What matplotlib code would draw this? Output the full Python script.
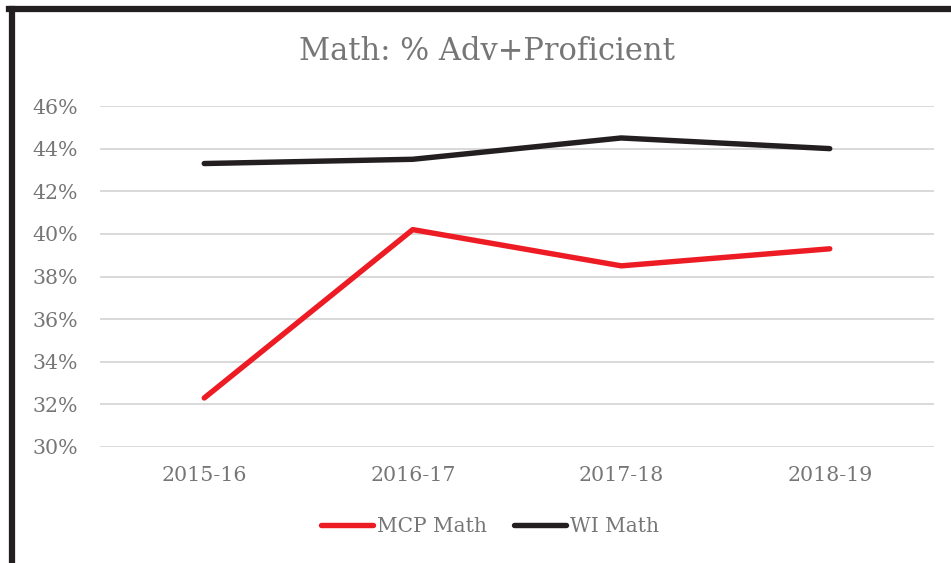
import matplotlib.pyplot as plt
from matplotlib.lines import Line2D

years = ['2015-16', '2016-17', '2017-18', '2018-19']
mcp_math = [32.3, 40.2, 38.5, 39.3]
wi_math = [43.3, 43.5, 44.5, 44.0]
y_ticks = [30, 32, 34, 36, 38, 40, 42, 44, 46]

TEXT = '#767676'
plt.rcParams['font.family'] = ['DejaVu Serif']

fig = plt.figure(figsize=(9.51, 5.63), dpi=100)
ax = fig.add_axes([100 / 951, 1 - 447 / 563, 834 / 951, 341 / 563])

x = range(len(years))
ax.plot(x, mcp_math, color='#ed1c24', lw=3.9, solid_capstyle='round', label='MCP Math')
ax.plot(x, wi_math, color='#231f20', lw=3.9, solid_capstyle='round', label='WI Math')

ax.set_xlim(-0.5, 3.5)
ax.set_ylim(30, 46)
ax.set_yticks(y_ticks)
ax.set_yticklabels([f'{v}%' for v in y_ticks])
ax.set_xticks(list(x))
ax.set_xticklabels(years)
ax.grid(axis='y', color='#d9d9d9', lw=1.4)
ax.set_axisbelow(True)
for s in ax.spines.values():
    s.set_visible(False)
ax.tick_params(length=0, labelsize=14.8, colors=TEXT)
ax.tick_params(axis='y', pad=16)
ax.tick_params(axis='x', pad=14)

fig.text(487 / 951, 1 - 52 / 563, 'Math: % Adv+Proficient', ha='center', va='center',
         fontsize=22, color=TEXT)

handles = [Line2D([], [], color='#ed1c24', lw=3.9, solid_capstyle='round'),
           Line2D([], [], color='#231f20', lw=3.9, solid_capstyle='round')]
fig.legend(handles, ['MCP Math', 'WI Math'], loc='center', ncol=2,
           bbox_to_anchor=(490 / 951, 1 - 527 / 563), frameon=False,
           fontsize=14.5, labelcolor=TEXT, handlelength=2.6, handletextpad=0.2,
           columnspacing=1.3)

# frame of the chart (left and top edges visible)
fig.add_artist(Line2D([12 / 951, 12 / 951], [0, 1 - 9 / 563], color='#231f20', lw=4.5,
                      transform=fig.transFigure))
fig.add_artist(Line2D([9 / 951, 1], [1 - 9 / 563, 1 - 9 / 563], color='#231f20', lw=4.5,
                      transform=fig.transFigure))

fig.savefig('out.png', dpi=100)
